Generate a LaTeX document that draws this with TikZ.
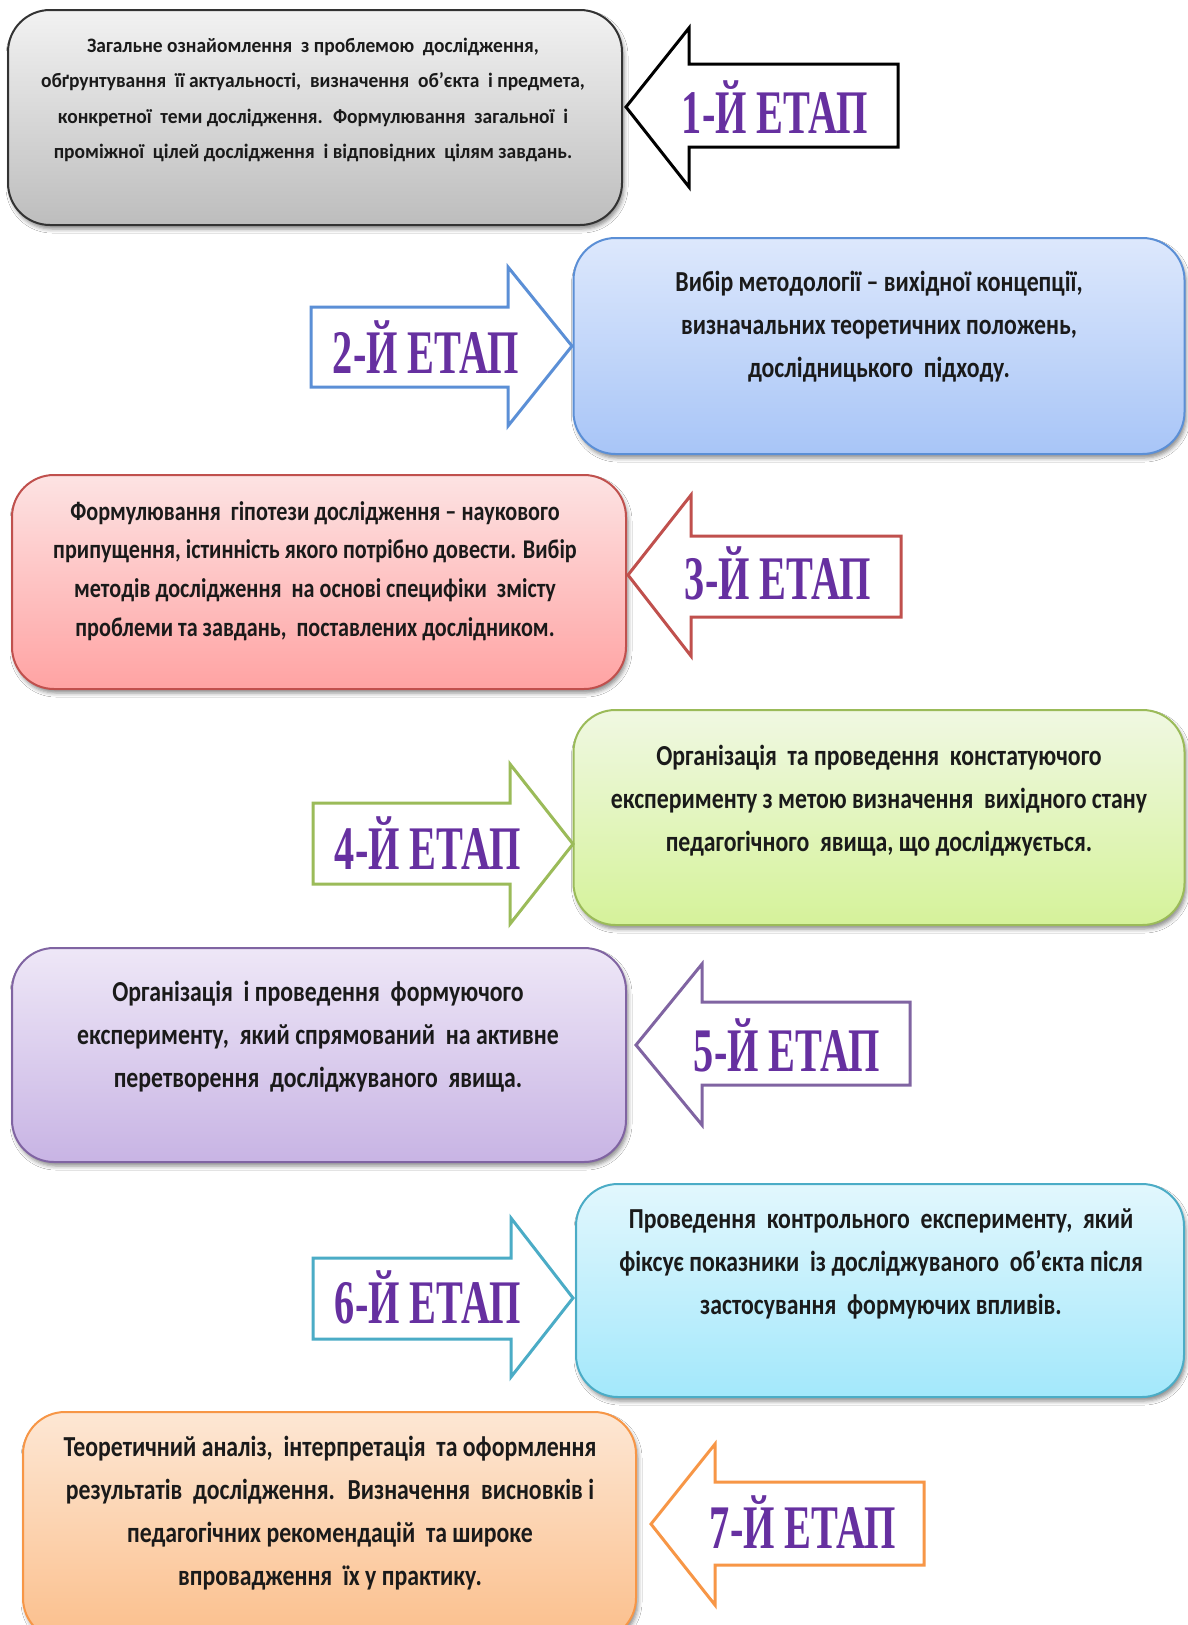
\documentclass[tikz,border=0pt]{standalone}
\usepackage{fontspec}
\usetikzlibrary{shadows.blur}
\newfontfamily\boxfont{Carlito}[FakeStretch=0.82]
\newfontfamily\boxfontwide{Carlito}[FakeStretch=0.95]
\newfontfamily\stagefont{Liberation Serif}[FakeStretch=0.65]
\definecolor{c1}{HTML}{000000}
\definecolor{c2}{HTML}{5B8FD6}
\definecolor{c3}{HTML}{C0504D}
\definecolor{c4}{HTML}{9BBB59}
\definecolor{c5}{HTML}{8064A2}
\definecolor{c6}{HTML}{4BACC6}
\definecolor{c7}{HTML}{F79646}
\definecolor{f1t}{HTML}{F2F2F2}\definecolor{f1b}{HTML}{BDBDBD}
\definecolor{f2t}{HTML}{DDE8FC}\definecolor{f2b}{HTML}{A8C5F7}
\definecolor{f3t}{HTML}{FDE3E3}\definecolor{f3b}{HTML}{FFA3A3}
\definecolor{f4t}{HTML}{F0F8E2}\definecolor{f4b}{HTML}{D5F29A}
\definecolor{f5t}{HTML}{EEE7F7}\definecolor{f5b}{HTML}{C8B4E4}
\definecolor{f6t}{HTML}{E2F7FD}\definecolor{f6b}{HTML}{A3E8FB}
\definecolor{f7t}{HTML}{FDE7D4}\definecolor{f7b}{HTML}{FBBF8C}
\definecolor{stagepurple}{HTML}{6630A0}
\definecolor{txt}{HTML}{1A1A1A}
\tikzset{
  stagebox/.style={rectangle, rounded corners=42pt, line width=2pt, inner sep=0pt,
    blur shadow={shadow xshift=2pt, shadow yshift=-4pt, shadow blur radius=4pt, shadow opacity=45}},
  boxtext/.style={align=center, text=txt, inner sep=0pt, font=\boxfont\bfseries\fontsize{29}{43}\selectfont},
  blockarrow/.style={line width=3pt, fill=white, line join=miter},
  stagelabel/.style={text=stagepurple, inner sep=0pt, font=\stagefont\bfseries\fontsize{62}{62}\selectfont},
}
\begin{document}
\begin{tikzpicture}[x=1pt,y=-1pt]
\clip (0,0) rectangle (1188,1625);
\fill[white] (0,0) rectangle (1188,1625);
% ---------- boxes ----------
\node[stagebox, draw=black!80, top color=f1t, bottom color=f1b,
  minimum width=614pt, minimum height=215pt] (b1) at (315,117.5) {};
\node[stagebox, draw=c2, top color=f2t, bottom color=f2b,
  minimum width=611pt, minimum height=216pt] (b2) at (879,346) {};
\node[stagebox, draw=c3, top color=f3t, bottom color=f3b,
  minimum width=614pt, minimum height=214pt] (b3) at (319,582) {};
\node[stagebox, draw=c4, top color=f4t, bottom color=f4b,
  minimum width=611pt, minimum height=215pt] (b4) at (879,817.5) {};
\node[stagebox, draw=c5, top color=f5t, bottom color=f5b,
  minimum width=614pt, minimum height=214pt] (b5) at (319,1055) {};
\node[stagebox, draw=c6, top color=f6t, bottom color=f6b,
  minimum width=608pt, minimum height=213pt] (b6) at (880,1290.5) {};
\node[stagebox, draw=c7, top color=f7t, bottom color=f7b,
  minimum width=613pt, minimum height=228pt] (b7) at (329.5,1526) {};
% ---------- box texts ----------
\node[boxtext, font=\boxfontwide\bfseries\fontsize{20.5}{35.3}\selectfont] (t1) at (313,100) {Загальне ознайомлення \ з проблемою \ дослідження,\\обґрунтування \ її актуальності, \ визначення \ об’єкта \ і предмета,\\конкретної \ теми дослідження. \ Формулювання \ загальної \ і\\проміжної \ цілей дослідження \ і відповідних \ цілям завдань.};
\node[boxtext] (t2) at (879,327) {Вибір методології – вихідної концепції,\\визначальних теоретичних положень,\\дослідницького \ підходу.};
\node[boxtext, font=\boxfont\bfseries\fontsize{27}{38.7}\selectfont] (t3) at (315,571) {Формулювання \ гіпотези дослідження – наукового\\припущення, істинність якого потрібно довести. Вибір\\методів дослідження \ на основі специфіки \ змісту\\проблеми та завдань, \ поставлених дослідником.};
\node[boxtext] (t4) at (879,801) {Організація \ та проведення \ констатуючого\\експерименту з метою визначення \ вихідного стану\\педагогічного \ явища, що досліджується.};
\node[boxtext] (t5) at (318,1037) {Організація \ і проведення \ формуючого\\експерименту, \ який спрямований \ на активне\\перетворення \ досліджуваного \ явища.};
\node[boxtext] (t6) at (881,1264) {Проведення \ контрольного \ експерименту, \ який\\фіксує показники \ із досліджуваного \ об’єкта після\\застосування \ формуючих впливів.};
\node[boxtext] (t7) at (330,1513) {Теоретичний аналіз, \ інтерпретація \ та оформлення\\результатів \ дослідження. \ Визначення \ висновків і\\педагогічних рекомендацій \ та широке\\впровадження \ їх у практику.};
% ---------- block arrows ----------
\draw[blockarrow, draw=c1] (626,107) -- (689,28) -- (689,64) -- (898,64) -- (898,147) -- (689,147) -- (689,187) -- cycle;
\draw[blockarrow, draw=c2] (572,346) -- (508,267) -- (508,307) -- (311,307) -- (311,387) -- (508,387) -- (508,426) -- cycle;
\draw[blockarrow, draw=c3] (628,575) -- (691,495) -- (691,536) -- (901,536) -- (901,617) -- (691,617) -- (691,656) -- cycle;
\draw[blockarrow, draw=c4] (573,844) -- (510,764) -- (510,803) -- (313,803) -- (313,884) -- (510,884) -- (510,924) -- cycle;
\draw[blockarrow, draw=c5] (636,1045) -- (702,964) -- (702,1002) -- (910,1002) -- (910,1085) -- (702,1085) -- (702,1125) -- cycle;
\draw[blockarrow, draw=c6] (573,1298) -- (511,1218) -- (511,1258) -- (313,1258) -- (313,1339) -- (511,1339) -- (511,1377) -- cycle;
\draw[blockarrow, draw=c7] (651,1524) -- (715,1444) -- (715,1482) -- (924,1482) -- (924,1565) -- (715,1565) -- (715,1605) -- cycle;
% ---------- stage labels ----------
\node[stagelabel] (e1) at (775,107) {1-Й ЕТАП};
\node[stagelabel] (e2) at (426,347) {2-Й ЕТАП};
\node[stagelabel] (e3) at (778,573) {3-Й ЕТАП};
\node[stagelabel] (e4) at (428,843) {4-Й ЕТАП};
\node[stagelabel] (e5) at (787,1045) {5-Й ЕТАП};
\node[stagelabel] (e6) at (428,1297) {6-Й ЕТАП};
\node[stagelabel] (e7) at (803,1522) {7-Й ЕТАП};
\end{tikzpicture}
\end{document}
